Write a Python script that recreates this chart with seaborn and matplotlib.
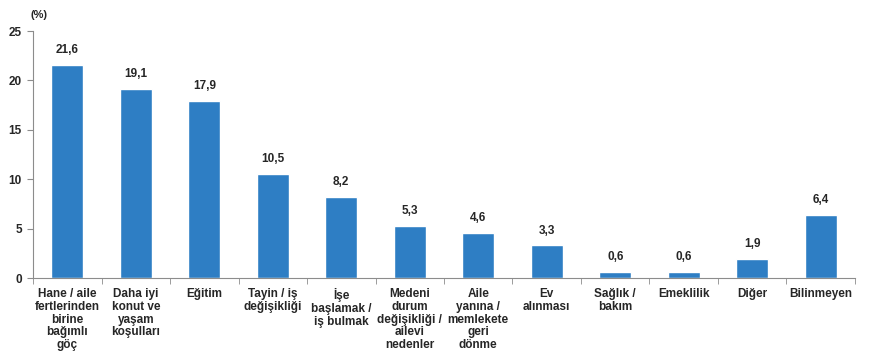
import matplotlib.pyplot as plt
import pandas as pd
import seaborn as sns


CATEGORIES = [
    "Hane / aile\nfertlerinden\nbirine\nbağımlı\ngöç",
    "Daha iyi\nkonut ve\nyaşam\nkoşulları",
    "Eğitim",
    "Tayin / iş\ndeğişikliği",
    "İşe\nbaşlamak /\niş bulmak",
    "Medeni\ndurum\ndeğişikliği /\nailevi\nnedenler",
    "Aile\nyanına /\nmemlekete\ngeri\ndönme",
    "Ev\nalınması",
    "Sağlık /\nbakım",
    "Emeklilik",
    "Diğer",
    "Bilinmeyen",
]
VALUES = [21.6, 19.1, 17.9, 10.5, 8.2, 5.3, 4.6, 3.3, 0.6, 0.6, 1.9, 6.4]
Y_TICKS = [0, 5, 10, 15, 20, 25]

BAR_COLOR = "#2E7EC4"
AXIS_COLOR = "#8C8C8C"

sns.set_style("white")
plt.rcParams["font.family"] = ["Liberation Sans", "DejaVu Sans"]

df = pd.DataFrame({"cat": CATEGORIES, "val": VALUES})

fig = plt.figure(figsize=(8.88, 3.59), dpi=100)
ax = fig.add_axes([0.0372, 0.2256, 0.9256, 0.688])

sns.barplot(df, x="cat", y="val", color=BAR_COLOR, width=0.47,
            saturation=1, ax=ax)

# value labels above bars
for i, v in enumerate(VALUES):
    ax.text(i, v + 0.9, f"{v:.1f}".replace(".", ","), ha="center", va="bottom",
            fontsize=8.5, fontweight="bold")

ax.set_ylim(0, 25)
ax.set_xlim(-0.5, len(CATEGORIES) - 0.5)
ax.set_yticks(Y_TICKS)
ax.set_yticklabels([str(t) for t in Y_TICKS], fontsize=8.5, fontweight="bold")

# category labels between the separator ticks
ax.set_xticks(range(len(CATEGORIES)))
ax.set_xticklabels(CATEGORIES, fontsize=8.5, fontweight="bold", va="top",
                   linespacing=1.1)
ax.tick_params(axis="x", length=0, pad=7)
ax.set_xticks([i - 0.5 for i in range(len(CATEGORIES) + 1)], minor=True)
ax.tick_params(axis="x", which="minor", length=4, color=AXIS_COLOR,
               direction="out", bottom=True)
ax.tick_params(axis="y", length=4, color=AXIS_COLOR, direction="out",
               left=True, pad=4)

for side in ["top", "right"]:
    ax.spines[side].set_visible(False)
for side in ["left", "bottom"]:
    ax.spines[side].set_color(AXIS_COLOR)
    ax.spines[side].set_linewidth(0.8)

ax.set_xlabel("")
ax.set_ylabel("")
fig.text(30 / 888, 1 - 15 / 359, "(%)", ha="left", va="center", fontsize=8,
         fontweight="bold")

fig.savefig("out.png", dpi=100)
